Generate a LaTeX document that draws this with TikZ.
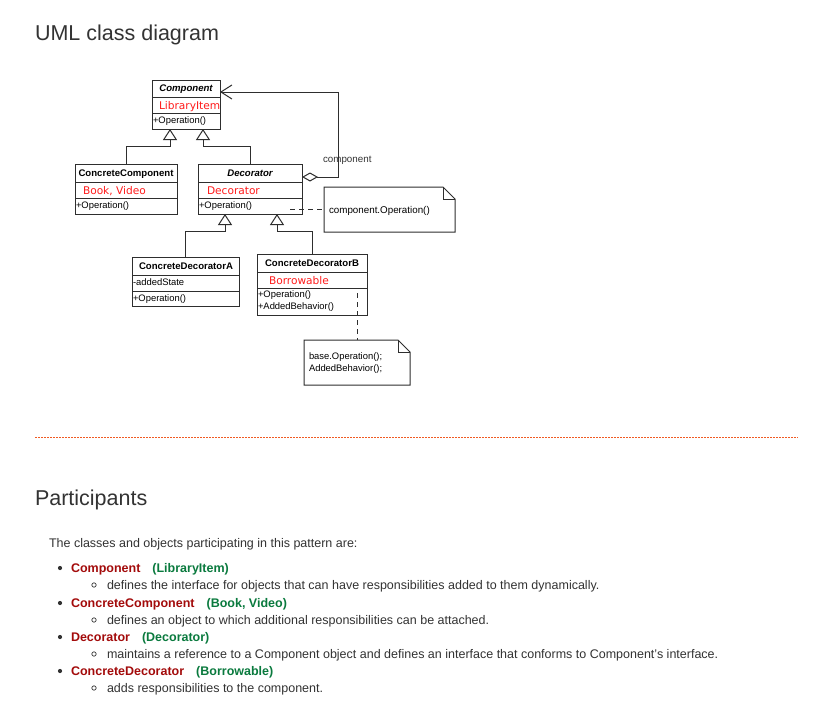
\documentclass[tikz,border=0pt]{standalone}
\usepackage{fontspec}
\setmainfont{Liberation Sans}
\newfontfamily\dvs{DejaVu Sans}
\usetikzlibrary{arrows.meta}
\definecolor{txt}{HTML}{333333}
\definecolor{ln}{HTML}{2E2E2E}
\definecolor{umlred}{HTML}{FF1A1A}
\definecolor{itemred}{HTML}{A30B0B}
\definecolor{itemgreen}{HTML}{0A7A3E}
\definecolor{sepc}{HTML}{F05A22}
\newcommand{\drawnote}[1]{%
  \draw[ln, line width=1pt] (#1.north west) -- ([xshift=-12pt]#1.north east) -- ([yshift=-12pt]#1.north east) -- (#1.south east) -- (#1.south west) -- cycle;
  \draw[ln, line width=1pt] ([xshift=-12pt]#1.north east) |- ([yshift=-12pt]#1.north east);}
\begin{document}
\begin{tikzpicture}[x=1pt,y=-1pt,
  every node/.style={inner sep=0pt, outer sep=0pt},
  cls/.style={draw=ln, line width=1pt, anchor=north west, rectangle},
  notebox/.style={anchor=north west, rectangle},
  div/.style={draw=ln, line width=1pt},
  uml/.style={anchor=base west, text=black, font=\fontsize{9.4}{10}\selectfont},
  umlname/.style={anchor=base, text=black, font=\fontsize{9.6}{10}\selectfont\bfseries},
  umlattr/.style={anchor=base west, text=umlred, font=\dvs\fontsize{10.6}{11}\selectfont},
  inh/.style={draw=ln, line width=1pt, -{Triangle[open,length=11pt,width=14pt]}},
  dsh/.style={draw=ln, line width=1pt, dash pattern=on 5pt off 4pt},
  body/.style={anchor=base west, text=txt, font=\fontsize{12.5}{14}\selectfont},
  item/.style={anchor=base west, font=\fontsize{12.5}{14}\selectfont\bfseries},
  head/.style={anchor=base west, text=txt, font=\fontsize{21.5}{24}\selectfont},
  dot/.style={circle, fill=txt, minimum size=4.2pt},
  odot/.style={circle, draw=txt, line width=0.7pt, minimum size=4.4pt}
]
\useasboundingbox (0,0) rectangle (816,720);
\fill[white] (0,0) rectangle (816,720);

% title
\node[head] (title) at (35,40) {UML class diagram};

% classes
\node[cls, minimum width=68pt, minimum height=49pt] (comp) at (152,80) {};
\draw[div] (comp.west |- 0,97) -- (comp.east |- 0,97);
\draw[div] (comp.west |- 0,113) -- (comp.east |- 0,113);
\node[umlname, font=\fontsize{9.6}{10}\selectfont\bfseries\itshape] (compn) at (186,91.5) {Component};
\node[umlattr] (compa) at (159,109) {LibraryItem};
\node[uml] (compo) at (153,123.5) {+Operation()};

\node[cls, minimum width=102pt, minimum height=50pt] (cc) at (75,164) {};
\draw[div] (cc.west |- 0,182) -- (cc.east |- 0,182);
\draw[div] (cc.west |- 0,198) -- (cc.east |- 0,198);
\node[umlname] (ccn) at (126,176.5) {ConcreteComponent};
\node[umlattr] (cca) at (83,194) {Book, Video};
\node[uml] (cco) at (76,208.5) {+Operation()};

\node[cls, minimum width=104pt, minimum height=50pt] (dec) at (198,164) {};
\draw[div] (dec.west |- 0,182) -- (dec.east |- 0,182);
\draw[div] (dec.west |- 0,198) -- (dec.east |- 0,198);
\node[umlname, font=\fontsize{9.6}{10}\selectfont\bfseries\itshape] (decn) at (250,176.5) {Decorator};
\node[umlattr] (deca) at (207,194) {Decorator};
\node[uml] (deco) at (199,208.5) {+Operation()};

\node[cls, minimum width=107pt, minimum height=49pt] (cda) at (132,257) {};
\draw[div] (cda.west |- 0,275) -- (cda.east |- 0,275);
\draw[div] (cda.west |- 0,291) -- (cda.east |- 0,291);
\node[umlname] (cdan) at (186,269) {ConcreteDecoratorA};
\node[uml] (cdaa) at (133,285.5) {-addedState};
\node[uml] (cdao) at (133,301) {+Operation()};

\node[cls, minimum width=110pt, minimum height=61pt] (cdb) at (257,254) {};
\draw[div] (cdb.west |- 0,272) -- (cdb.east |- 0,272);
\draw[div] (cdb.west |- 0,288) -- (cdb.east |- 0,288);
\node[umlname] (cdbn) at (312,266.5) {ConcreteDecoratorB};
\node[umlattr] (cdba) at (269,284) {Borrowable};
\node[uml] (cdbo) at (258,297.5) {+Operation()};
\node[uml] (cdbb) at (258,309.5) {+AddedBehavior()};

% notes
\node[notebox, minimum width=131pt, minimum height=45pt] (n1) at (324,187) {};
\drawnote{n1}
\node[uml, font=\fontsize{9.8}{10}\selectfont] (n1t) at (329,213) {component.Operation()};
\node[notebox, minimum width=106pt, minimum height=45pt] (n2) at (304,340) {};
\drawnote{n2}
\node[uml] (n2t1) at (309,359) {base.Operation();};
\node[uml] (n2t2) at (309,371) {AddedBehavior();};

% connectors
\draw[inh] (cc.north) -- ++(0,-18) -| ([xshift=-16pt]comp.south);
\draw[inh] (dec.north) -- ++(0,-18) -| ([xshift=17pt]comp.south);
\draw[inh] (cda.north) -- ++(0,-26) -| ([xshift=-25pt]dec.south);
\draw[inh] (cdb.north) -- ++(0,-23) -| ([xshift=27pt]dec.south);
\draw[draw=ln, line width=1pt, {Diamond[open,fill=white,length=16pt,width=9pt]}-{Straight Barb[length=11pt,width=14pt]}]
  ([yshift=12pt]dec.east) -| (338,92) -- ([yshift=12.5pt]comp.east);
\node[uml, font=\fontsize{9.8}{10}\selectfont, text=txt] (agglabel) at (323,162.5) {component};
\draw[dsh] ([xshift=-12pt,yshift=4.5pt]dec.south east) -- (n1.west);
\draw[dsh] ([xshift=-10pt,yshift=22pt]cdb.south east) -- (n2.north);

% separator
\draw[sepc, line width=1.3pt, dash pattern=on 2pt off 1pt] (35,437.5) -- (798,437.5);

% participants
\node[head] (ptitle) at (35,505) {Participants};
\node[body] (intro) at (49,547.5) {The classes and objects participating in this pattern are:};

\node[dot] (b1) at (60,568) {};
\node[item] (i1) at (71,572.5) {\textcolor{itemred}{Component}\hspace{12pt}\textcolor{itemgreen}{(LibraryItem)}};
\node[odot] (c1) at (94,585) {};
\node[body] (s1) at (107,589.5) {defines the interface for objects that can have responsibilities added to them dynamically.};

\node[dot] (b2) at (60,603) {};
\node[item] (i2) at (71,607.5) {\textcolor{itemred}{ConcreteComponent}\hspace{12pt}\textcolor{itemgreen}{(Book, Video)}};
\node[odot] (c2) at (94,620) {};
\node[body] (s2) at (107,624.5) {defines an object to which additional responsibilities can be attached.};

\node[dot] (b3) at (60,637) {};
\node[item] (i3) at (71,641.5) {\textcolor{itemred}{Decorator}\hspace{12pt}\textcolor{itemgreen}{(Decorator)}};
\node[odot] (c3) at (94,654) {};
\node[body] (s3) at (107,658.5) {maintains a reference to a Component object and defines an interface that conforms to Component's interface.};

\node[dot] (b4) at (60,671) {};
\node[item] (i4) at (71,675.5) {\textcolor{itemred}{ConcreteDecorator}\hspace{12pt}\textcolor{itemgreen}{(Borrowable)}};
\node[odot] (c4) at (94,688) {};
\node[body] (s4) at (107,692.5) {adds responsibilities to the component.};
\end{tikzpicture}
\end{document}
